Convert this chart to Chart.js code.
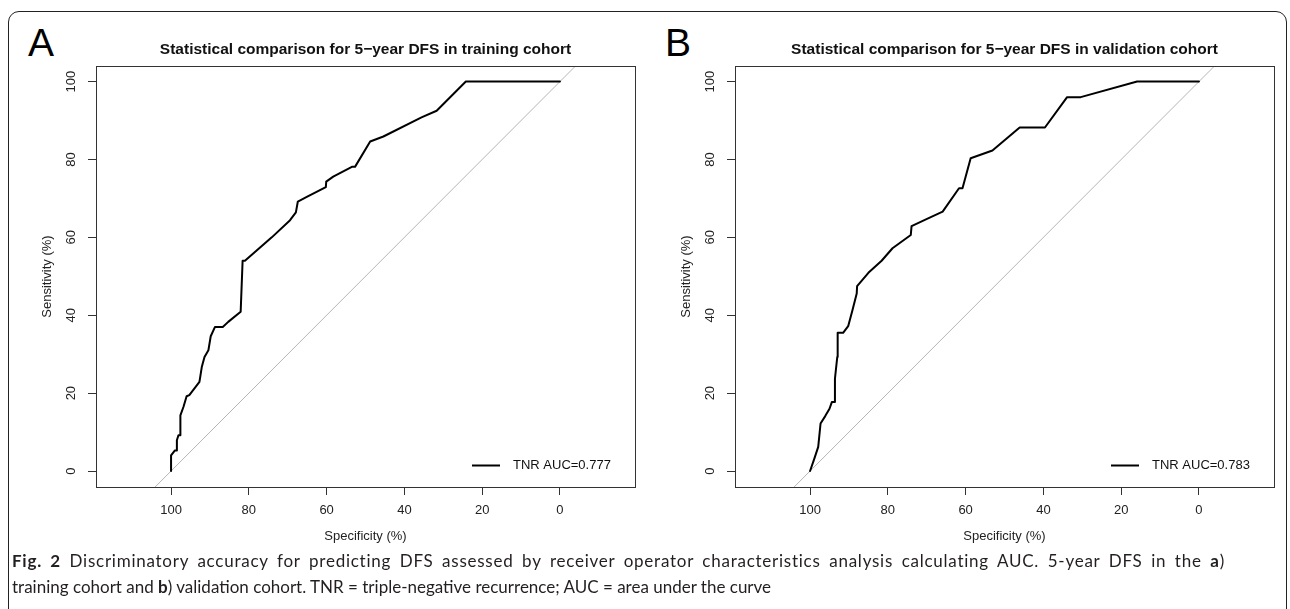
<!DOCTYPE html>
<html>
<head>
<meta charset="utf-8">
<script src="https://cdn.jsdelivr.net/npm/chart.js@4.4.0/dist/chart.umd.min.js"></script>
<style>
html, body { margin: 0; padding: 0; background: #fff; overflow: hidden; }
#wrap { position: relative; width: 1290px; height: 609px; overflow: hidden; }
#frame { position: absolute; left: 8px; top: 11px; width: 1279px; height: 700px; border: 1.5px solid #222; border-radius: 11px; box-sizing: border-box; }
.panel { position: absolute; top: 23px; font-family: 'Liberation Sans', Arial, sans-serif; font-size: 39px; line-height: 39px; color: #000; }
canvas { position: absolute; top: 0; }
#caption { position: absolute; left: 12px; top: 548px; font-family: Lato, sans-serif; font-size: 17px; line-height: 26px; color: #231f20; white-space: nowrap; }
#caption .first { width: 1213px; white-space: normal; letter-spacing: 0.75px; text-align: justify; text-align-last: justify; }
</style>
</head>
<body>
<div id="wrap">
  <div id="frame"></div>
  <div class="panel" style="left:28px">A</div>
  <div class="panel" style="left:665px">B</div>
  <canvas id="rocA" width="639" height="550" style="left:0"></canvas>
  <canvas id="rocB" width="639" height="550" style="left:639px"></canvas>
  <div id="caption">
    <div class="first"><b>Fig. 2</b> Discriminatory accuracy for predicting DFS assessed by receiver operator characteristics analysis calculating AUC. 5-year DFS in the <b>a</b>)</div>
    <div>training cohort and <b>b</b>) validation cohort. TNR = triple-negative recurrence; AUC = area under the curve</div>
  </div>
</div>
<script>
var tickValues = [0, 20, 40, 60, 80, 100];
var specRange = [-19.3, 119.3];
var sensRange = [-4.1, 104];

// training cohort
var trainTitle = 'Statistical comparison for 5\u2212year DFS in training cohort';
var trainLabel = 'TNR AUC=0.777';
var trainSpec = [100, 100, 99.0, 98.5, 98.5, 98.1, 97.6, 97.6, 96.8, 96.0, 95.3, 92.7, 92.1, 91.4, 90.4, 89.8, 88.7, 86.7, 85.3, 82.1, 81.6, 81.0, 74.1, 69.4, 67.9, 67.4, 65.1, 60.2, 60.1, 58.3, 53.5, 52.7, 48.8, 45.4, 35.6, 31.7, 24.2, 0];
var trainSens = [0, 4.0, 5.3, 5.3, 7.9, 9.2, 9.2, 14.3, 16.5, 19.2, 19.5, 22.9, 26.7, 29.3, 31.0, 34.6, 37.0, 37.0, 38.3, 40.9, 54.0, 54.0, 60.0, 64.4, 66.4, 69.2, 70.4, 72.9, 74.3, 75.6, 78.1, 78.1, 84.6, 85.9, 90.8, 92.5, 100, 100];

// validation cohort
var validTitle = 'Statistical comparison for 5\u2212year DFS in validation cohort';
var validLabel = 'TNR AUC=0.783';
var validSpec = [100, 98.9, 97.9, 97.3, 96.1, 95.0, 94.4, 93.6, 93.6, 93.0, 92.9, 91.5, 90.2, 89.1, 88.0, 87.9, 85.0, 81.6, 78.8, 74.1, 73.9, 70.2, 65.9, 61.7, 60.8, 58.7, 53.1, 46.1, 39.6, 33.9, 30.4, 15.9, 0];
var validSens = [0, 3.2, 6.2, 12.2, 14.1, 16.0, 17.7, 17.7, 23.7, 29.3, 35.5, 35.5, 37.2, 41.3, 45.6, 47.5, 50.9, 54.0, 57.2, 60.6, 62.9, 64.6, 66.6, 72.6, 72.6, 80.3, 82.3, 88.2, 88.2, 96.0, 96.0, 100, 100];

var fontFamily = "'Liberation Sans', Arial, Helvetica, sans-serif";

function toPoints(xs, ys) {
    return xs.map(function (x, i) { return {x: x, y: ys[i]}; });
}

function setTicks(axis) {
    axis.ticks = tickValues.map(function (v) { return {value: v}; });
}

// frame round the plot region, like R's box()
var boxPlugin = {
    id: 'box',
    afterDatasetsDraw: function (chart) {
        var a = chart.chartArea, ctx = chart.ctx;
        ctx.save();
        ctx.strokeStyle = '#333';
        ctx.lineWidth = 1;
        ctx.strokeRect(Math.round(a.left) + 0.5, Math.round(a.top) + 0.5, Math.round(a.right - a.left), Math.round(a.bottom - a.top));
        ctx.restore();
    }
};

// legend sits inside the plot, bottom right, no border
var legendPlugin = {
    id: 'innerLegend',
    afterDatasetsDraw: function (chart) {
        var a = chart.chartArea, ctx = chart.ctx, ds = chart.data.datasets[0];
        var y = a.bottom - 21.5;
        ctx.save();
        ctx.strokeStyle = ds.borderColor;
        ctx.lineWidth = 2;
        ctx.beginPath();
        ctx.moveTo(a.right - 163, y);
        ctx.lineTo(a.right - 135, y);
        ctx.stroke();
        ctx.fillStyle = '#111';
        ctx.font = '13px ' + fontFamily;
        ctx.textBaseline = 'middle';
        ctx.fillText(ds.label, a.right - 122, y);
        ctx.restore();
    }
};

function makeChart(id, spec, sens, label, title) {
    var ctx = document.getElementById(id).getContext('2d');
    return new Chart(ctx, {
        type: 'scatter',
        data: {
            datasets: [{
                label: label,
                data: toPoints(spec, sens),
                showLine: true,
                borderColor: '#000',
                borderWidth: 2,
                borderCapStyle: 'round',
                borderJoinStyle: 'round',
                pointRadius: 0
            }, {
                label: 'chance',
                data: [{x: 100 - sensRange[0], y: sensRange[0]}, {x: 100 - sensRange[1], y: sensRange[1]}],
                showLine: true,
                borderColor: '#b5b5b5',
                borderWidth: 1,
                pointRadius: 0
            }]
        },
        options: {
            responsive: false,
            animation: false,
            events: [],
            layout: {padding: {left: 0, right: 4, top: 0, bottom: 0}},
            plugins: {
                legend: {display: false},
                tooltip: {enabled: false},
                title: {
                    display: true,
                    text: title,
                    fullSize: false,
                    color: '#111',
                    font: {family: fontFamily, size: 15.5, weight: 'bold'},
                    padding: {top: 40.5, bottom: 6.9}
                }
            },
            scales: {
                x: {
                    type: 'linear',
                    reverse: true,
                    min: specRange[0],
                    max: specRange[1],
                    afterBuildTicks: setTicks,
                    afterFit: function (s) { s.height = 63; },
                    border: {display: false},
                    grid: {drawOnChartArea: false, drawTicks: true, tickLength: 8, color: '#333'},
                    ticks: {color: '#222', autoSkip: false, maxRotation: 0, padding: 7.2, font: {family: fontFamily, size: 13}},
                    title: {display: true, text: 'Specificity (%)', color: '#222', font: {family: fontFamily, size: 13}, padding: {top: 0, bottom: 6.2}}
                },
                y: {
                    type: 'linear',
                    min: sensRange[0],
                    max: sensRange[1],
                    afterBuildTicks: setTicks,
                    afterFit: function (s) { s.width = 96; },
                    border: {display: false},
                    grid: {drawOnChartArea: false, drawTicks: true, tickLength: 8, color: '#333'},
                    ticks: {color: '#222', minRotation: 90, maxRotation: 90, crossAlign: 'center', padding: 5.5, font: {family: fontFamily, size: 13}},
                    title: {display: true, text: 'Sensitivity (%)', color: '#222', font: {family: fontFamily, size: 13}, padding: {top: 39.2, bottom: 0}}
                }
            }
        },
        plugins: [boxPlugin, legendPlugin]
    });
}

makeChart('rocA', trainSpec, trainSens, trainLabel, trainTitle);
makeChart('rocB', validSpec, validSens, validLabel, validTitle);
</script>
</body>
</html>
